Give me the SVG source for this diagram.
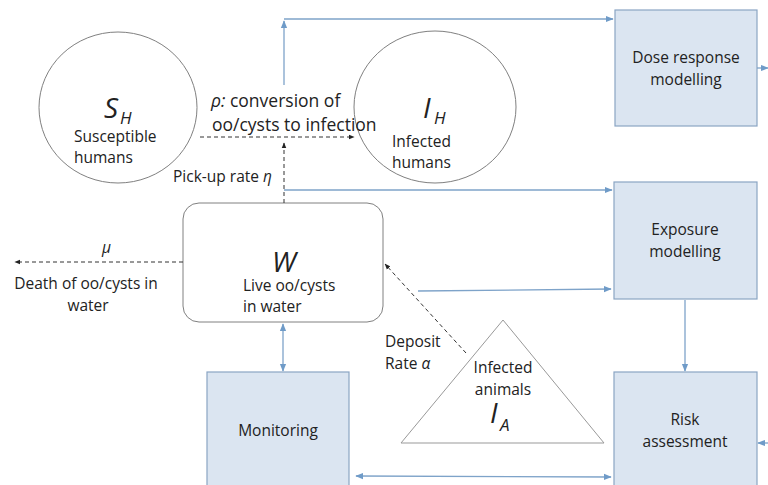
<svg xmlns="http://www.w3.org/2000/svg" width="768" height="485" viewBox="0 0 768 485">
<style>
text{font-family:"Open Sans","Liberation Sans",sans-serif;fill:#222;}
.lbl{font-size:15.5px;}
.big{font-size:17.5px;}
.sym{font-style:italic;font-size:28px;}
.sub{font-style:italic;font-size:17px;}
.node{fill:#fff;stroke:#808080;stroke-width:1;}
.box{fill:#dbe5f1;stroke:#8aa5c4;stroke-width:1.2;}
.blue{stroke:#7ea3c9;stroke-width:1.3;fill:none;}
.dash{stroke:#333;stroke-width:1;stroke-dasharray:4,3;fill:none;}
</style>
<defs>
<marker id="ab" viewBox="0 0 10 10" refX="9" refY="5" markerWidth="6" markerHeight="6" orient="auto-start-reverse"><path d="M0,1 L10,5 L0,9 z" fill="#6f9bc8"/></marker>
<marker id="ak" viewBox="0 0 10 10" refX="9" refY="5" markerWidth="6" markerHeight="6" orient="auto"><path d="M0,1 L10,5 L0,9 z" fill="#222"/></marker>
</defs>
<g id="SH">
<ellipse class="node" cx="118" cy="107.5" rx="79" ry="75.5"/>
<text class="sym" x="104" y="118">S</text><text class="sub" x="120" y="124">H</text>
<text class="lbl" x="74" y="142">Susceptible</text>
<text class="lbl" x="74" y="163">humans</text>
</g>
<g id="IH">
<ellipse class="node" cx="435" cy="107" rx="81" ry="76"/>
<text class="sym" x="423" y="118">I</text><text class="sub" x="434" y="124">H</text>
<text class="lbl" x="392" y="147">Infected</text>
<text class="lbl" x="392" y="168">humans</text>
</g>
<g id="W">
<rect class="node" x="183" y="203" width="200" height="119" rx="16" ry="16"/>
<text class="sym" x="284" y="272" text-anchor="middle">W</text>
<text class="lbl" x="243" y="291">Live oo/cysts</text>
<text class="lbl" x="243" y="312">in water</text>
</g>
<g id="IA">
<polygon class="node" points="503,320 401,443 604,443" style="stroke:#999"/>
<text class="lbl" x="503" y="373" text-anchor="middle">Infected</text>
<text class="lbl" x="503" y="395" text-anchor="middle">animals</text>
<text class="sym" x="490" y="423">I</text><text class="sub" x="500" y="431">A</text>
</g>
<g id="dose">
<rect class="box" x="615" y="10" width="142" height="116"/>
<text class="lbl" x="686" y="63" text-anchor="middle">Dose response</text>
<text class="lbl" x="686" y="85" text-anchor="middle">modelling</text>
</g>
<g id="exposure">
<rect class="box" x="614" y="182" width="143" height="117"/>
<text class="lbl" x="685" y="235" text-anchor="middle">Exposure</text>
<text class="lbl" x="685" y="257" text-anchor="middle">modelling</text>
</g>
<g id="risk">
<rect class="box" x="614" y="372" width="143" height="125"/>
<text class="lbl" x="685" y="425" text-anchor="middle">Risk</text>
<text class="lbl" x="685" y="447" text-anchor="middle">assessment</text>
</g>
<g id="monitoring">
<rect class="box" x="207" y="372" width="142" height="125"/>
<text class="lbl" x="278" y="436" text-anchor="middle">Monitoring</text>
</g>
<g id="connectors">
<line class="blue" x1="284" y1="85" x2="284" y2="21" marker-end="url(#ab)"/>
<line class="blue" x1="284" y1="19" x2="613" y2="19" marker-end="url(#ab)"/>
<line class="blue" x1="284" y1="190" x2="612" y2="190" marker-end="url(#ab)"/>
<line class="blue" x1="757" y1="68" x2="768" y2="68" marker-end="url(#ab)"/>
<line class="blue" x1="418" y1="291" x2="611" y2="289" marker-end="url(#ab)"/>
<line class="blue" x1="685" y1="300" x2="685" y2="371" marker-end="url(#ab)"/>
<line class="blue" x1="768" y1="443" x2="758" y2="443" marker-end="url(#ab)"/>
<line class="blue" x1="356" y1="476" x2="611" y2="477" marker-start="url(#ab)" marker-end="url(#ab)"/>
<line class="blue" x1="283" y1="324" x2="283" y2="371" marker-start="url(#ab)" marker-end="url(#ab)"/>
<line class="dash" x1="200" y1="137" x2="354" y2="137" marker-end="url(#ak)"/>
<line class="dash" x1="284" y1="203" x2="284" y2="143" marker-end="url(#ak)"/>
<line class="dash" x1="183" y1="262" x2="15" y2="262" marker-end="url(#ak)"/>
<line class="dash" x1="466" y1="353" x2="385" y2="264" marker-end="url(#ak)"/>
<text class="big" x="211" y="107"><tspan font-style="italic">ρ:</tspan> conversion of</text>
<text class="big" x="212" y="131">oo/cysts to infection</text>
<text class="lbl" x="173" y="182">Pick-up rate <tspan font-style="italic">η</tspan></text>
<text class="lbl" x="102" y="253" font-style="italic">μ</text>
<text class="lbl" x="86" y="289" text-anchor="middle">Death of oo/cysts in</text>
<text class="lbl" x="88" y="311" text-anchor="middle">water</text>
<text class="lbl" x="385" y="347">Deposit</text>
<text class="lbl" x="385" y="369">Rate <tspan font-style="italic">α</tspan></text>
</g>
</svg>
